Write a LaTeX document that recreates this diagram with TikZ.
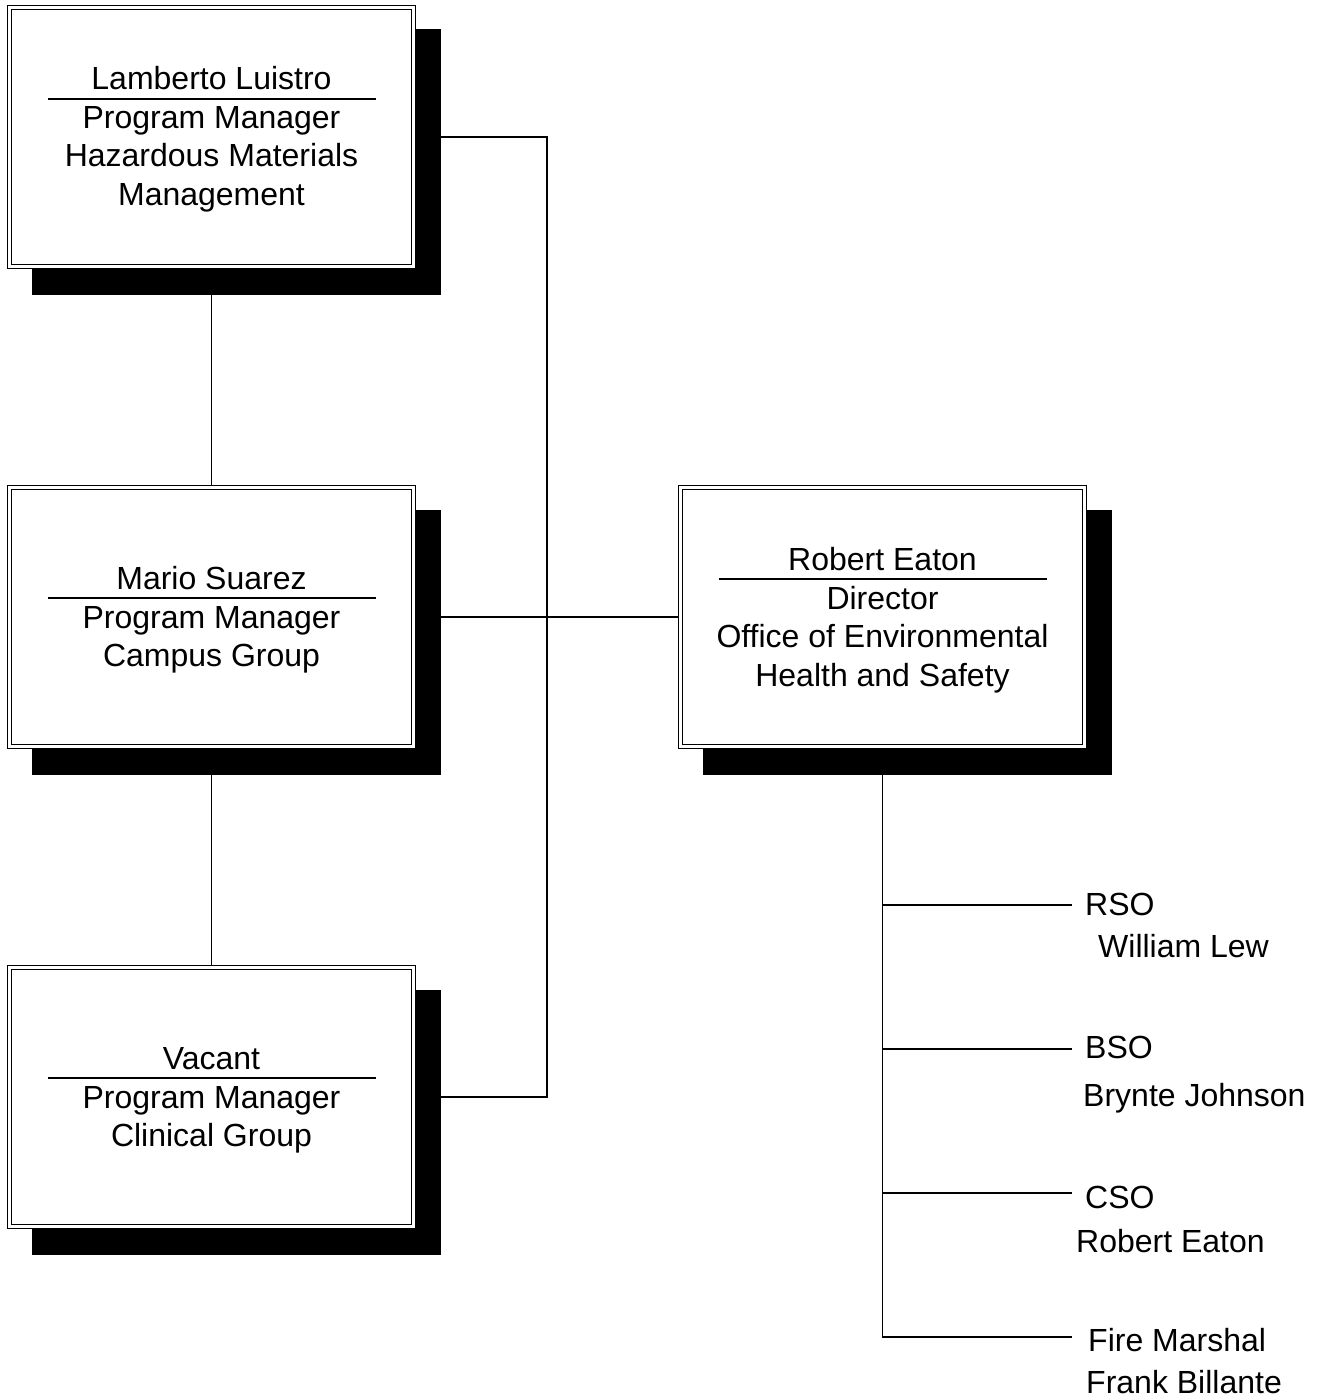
\documentclass[tikz,border=0pt]{standalone}
\usepackage{fontspec}
\setmainfont{Liberation Sans}
\usetikzlibrary{backgrounds,calc}
\begin{document}
\begin{tikzpicture}[x=1pt,y=-1pt,
  box/.style={draw=black, line width=1.2pt, double=white, double distance=2.6pt,
    fill=white, minimum width=404pt, minimum height=259pt, inner sep=0pt, outer sep=0pt},
  txt/.style={anchor=base, inner sep=0pt, font=\fontsize{32}{38.5}\selectfont},
  lbl/.style={anchor=base west, inner sep=0pt, font=\fontsize{32}{38.5}\selectfont},
  conn/.style={line width=1.4pt},
  divider/.style={line width=1.2pt},
  shade/.style={fill=black}]
\useasboundingbox (0,0) rectangle (1323,1399);

% boxes
\node[box] (b1) at (211.5,137) {};
\node[box] (b2) at (211.5,617) {};
\node[box] (b3) at (211.5,1097) {};
\node[box] (b4) at (882.5,617) {};

% box 1 text
\node[txt] (n1) at (211.5,90) {Lamberto Luistro};
\node[txt] (t1a) at (211.5,128.5) {Program Manager};
\node[txt] (t1b) at (211.5,167) {Hazardous Materials};
\node[txt] (t1c) at (211.5,205.5) {Management};
\draw[divider] (47.5,99) -- (375.5,99);

% box 2 text
\node[txt] (n2) at (211.5,589.5) {Mario Suarez};
\node[txt] (t2a) at (211.5,628) {Program Manager};
\node[txt] (t2b) at (211.5,666.5) {Campus Group};
\draw[divider] (47.5,598) -- (375.5,598);

% box 3 text
\node[txt] (n3) at (211.5,1069.5) {Vacant};
\node[txt] (t3a) at (211.5,1108) {Program Manager};
\node[txt] (t3b) at (211.5,1146.5) {Clinical Group};
\draw[divider] (47.5,1078) -- (375.5,1078);

% box 4 text
\node[txt] (n4) at (882.5,570.5) {Robert Eaton};
\node[txt] (t4a) at (882.5,609) {Director};
\node[txt] (t4b) at (882.5,647.5) {Office of Environmental};
\node[txt] (t4c) at (882.5,686) {Health and Safety};
\draw[divider] (718.5,579) -- (1046.5,579);

% right-hand labels
\node[lbl] (rso) at (1085,915) {RSO};
\node[lbl] (rsoname) at (1098,957) {William Lew};
\node[lbl] (bso) at (1085,1058) {BSO};
\node[lbl] (bsoname) at (1083,1106) {Brynte Johnson};
\node[lbl] (cso) at (1085,1208) {CSO};
\node[lbl] (csoname) at (1076,1252) {Robert Eaton};
\node[lbl] (fm) at (1088,1351) {Fire Marshal};
\node[lbl] (fmname) at (1086,1393) {Frank Billante};

\coordinate (bus) at (547,137);
\coordinate (r1) at (1072,905);
\coordinate (r2) at (1072,1049);
\coordinate (r3) at (1072,1193);
\coordinate (r4) at (1072,1337);

\begin{scope}[on background layer]
  % connectors
  \draw[conn] (b1.east) -- (bus) |- (b3.east);
  \draw[conn] (b2.east) -- (b4.west);
  \draw[conn] (b1.south) -- (b2.north);
  \draw[conn] (b2.south) -- (b3.north);
  \draw[conn] (b4.south) |- (r4);
  \draw[conn] (b4.south |- r1) -- (r1);
  \draw[conn] (b4.south |- r2) -- (r2);
  \draw[conn] (b4.south |- r3) -- (r3);
  % shadows
  \foreach \b in {b1,b2,b3,b4}
    \fill[shade] ([shift={(22,22)}]\b.north west) rectangle ([shift={(27,28)}]\b.south east);
\end{scope}
\end{tikzpicture}
\end{document}
